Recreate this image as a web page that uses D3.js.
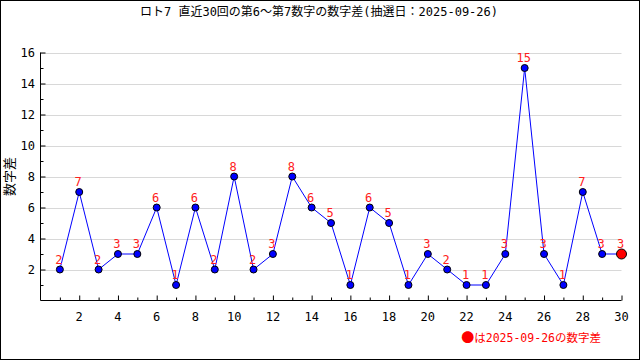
<!DOCTYPE html>
<html><head><meta charset="utf-8">
<script src="https://cdn.jsdelivr.net/npm/d3@7"></script>
<style>body{margin:0;background:#fff}svg{display:block}</style>
</head><body>
<script>
const title = "ロト7 直近30回の第6～第7数字の数字差(抽選日：2025-09-26)";
const yLabel = "数字差";
const legendMark = "●";
const legendText = "は2025-09-26の数字差";
const draws = d3.range(1, 31);
const diffs = [2,7,2,3,3,6,1,6,2,8,2,3,8,6,5,1,6,5,1,3,2,1,1,3,15,3,1,7,3,3];
const yTicks = [2,4,6,8,10,12,14,16];
const xTicks = [2,4,6,8,10,12,14,16,18,20,22,24,26,28,30];

const W = 640, H = 360;
const font = "'DejaVu Sans Mono','Noto Sans CJK JP',monospace";
const svg = d3.select("body").append("svg").attr("width", W).attr("height", H);
svg.append("rect").attr("x",0.5).attr("y",0.5).attr("width",W-1).attr("height",H-1)
  .attr("fill","#fff").attr("stroke","#000");

const x = d3.scaleLinear().domain([0,30]).range([40.5,621.5]);
const y = d3.scaleLinear().domain([0,16]).range([300.5,52.5]);

svg.append("text").attr("x",319).attr("y",16).attr("text-anchor","middle")
  .attr("font-family",font).attr("font-size",12).text(title);

// grid
svg.append("g").selectAll("line").data(yTicks).join("line")
  .attr("x1",x(0)).attr("x2",x(30)).attr("y1",d=>Math.round(y(d))+0.5).attr("y2",d=>Math.round(y(d))+0.5)
  .attr("stroke","#d8d8d8");

// y axis
const yAxis = svg.append("g").attr("transform",`translate(${x(0)},0)`)
  .call(d3.axisRight(y).tickValues(d3.range(1,17)).tickSize(3).tickFormat(""));
yAxis.select(".domain").attr("d",`M0,${y(16)}V${y(0)}`);
yAxis.selectAll(".tick line").attr("x2",d=>d%2===0?5:3);
svg.append("g").selectAll("text").data(yTicks).join("text")
  .attr("x",35).attr("y",d=>y(d)+4).attr("text-anchor","end")
  .attr("font-family",font).attr("font-size",12).text(d=>d);

// x axis
const xAxis = svg.append("g").attr("transform",`translate(0,${y(0)})`)
  .call(d3.axisTop(x).tickValues(d3.range(1,31)).tickSize(3).tickFormat(""));
xAxis.select(".domain").attr("d",`M${x(0)},0H${x(30)}`);
xAxis.selectAll(".tick line").attr("y2",d=>d%2===0?-5:-3);
svg.append("g").selectAll("text").data(xTicks).join("text")
  .attr("x",d=>x(d)).attr("y",y(0)+20).attr("text-anchor","middle")
  .attr("font-family",font).attr("font-size",12).text(d=>d);

svg.append("text").attr("transform",`translate(14,${(y(0)+y(16))/2}) rotate(-90)`)
  .attr("text-anchor","middle").attr("font-family",font).attr("font-size",13).text(yLabel);

// line
const pts = draws.map((d,i)=>({n:d,v:diffs[i]}));
svg.append("path").datum(pts)
  .attr("d", d3.line().x(d=>x(d.n)).y(d=>y(d.v)))
  .attr("fill","none").attr("stroke","#0000ff").attr("stroke-width",1);

svg.append("g").selectAll("circle").data(pts).join("circle")
  .attr("cx",d=>x(d.n)).attr("cy",d=>y(d.v))
  .attr("r",(d,i)=>i===pts.length-1?5:3.5)
  .attr("fill",(d,i)=>i===pts.length-1?"#ff0000":"#0000ff")
  .attr("stroke","#000").attr("stroke-width",1);

svg.append("g").selectAll("text").data(pts).join("text")
  .attr("x",d=>x(d.n)-1).attr("y",d=>y(d.v)-6).attr("text-anchor","middle")
  .attr("font-family",font).attr("font-size",12).attr("fill","#ff2020").text(d=>d.v);

const lg = svg.append("text").attr("x",601).attr("y",342).attr("text-anchor","end")
  .attr("font-family",font).attr("font-size",11).attr("fill","#ff0000");
lg.append("tspan").attr("font-family","'Noto Sans CJK JP'").attr("font-size",13).text(legendMark);
lg.append("tspan").attr("font-size",11.5).text(legendText);
</script>
</body></html>
